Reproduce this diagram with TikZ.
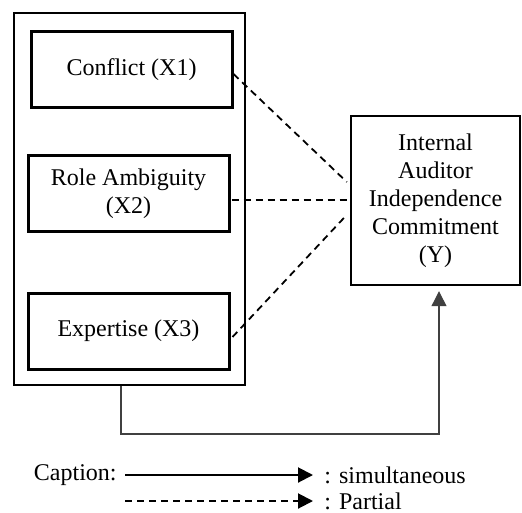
\documentclass[tikz,border=0pt]{standalone}
\usepackage{fontspec}
\setmainfont{Liberation Serif}
\usetikzlibrary{arrows.meta,calc}
\begin{document}
\begin{tikzpicture}[x=0.5pt,y=-0.5pt,
  txt/.style={font=\fontsize{12}{14}\selectfont},
  varbox/.style={txt,draw,line width=1.5pt,minimum width=100.5pt,minimum height=38pt,inner sep=0pt,align=center},
  groupbox/.style={draw,line width=1pt,minimum width=115.5pt,minimum height=186pt,inner sep=0pt},
  ybox/.style={txt,draw,line width=1.2pt,minimum width=84.5pt,minimum height=84.5pt,inner sep=0pt,align=center},
  partial/.style={line width=0.9pt,dash pattern=on 3.5pt off 2.5pt},
  simul/.style={line width=0.6pt,draw=black!75},
  tip/.style={-{Triangle[length=7.5pt,width=7.5pt]}}
]
\useasboundingbox (0,0) rectangle (522,512);
\node[groupbox] (grp) at (129.5,199) {};
\node[varbox] (x1) at (131.5,70) {Conflict (X1)};
\node[varbox] (x2) at (128.5,194) {Role Ambiguity\\(X2)};
\node[varbox] (x3) at (128.5,331) {Expertise (X3)};
\node[ybox] (y) at (435.5,200.5) {Internal\\Auditor\\Independence\\Commitment\\(Y)};
% partial effects
\draw[partial] ($(x1.east)+(0,4)$) -- ($(y.west)+(-3,-18.5)$);
\draw[partial] ($(x2.east)+(1,6)$) -- ($(y.west)+(-1,-0.5)$);
\draw[partial] ($(x3.east)+(2,6)$) -- ($(y.west)+(-5,16.5)$);
% simultaneous effect
\coordinate (c1) at (121,434);
\coordinate (c2) at (439,434);
\draw[simul,tip,shorten >=2.5pt] (grp.south -| c1) -- (c1) -- (c2) -- (c2 |- y.south);
% caption
\node[txt,anchor=east,inner sep=0pt] (cap) at (117,475) {Caption:};
\node[txt,anchor=west,inner sep=0pt] (sim) at (324,475) {: simultaneous};
\node[txt,anchor=west,inner sep=0pt] (par) at (324,501) {: Partial};
\draw[line width=1pt,tip] ($(cap.east)+(8,0)$) -- ($(sim.west)+(-11,0)$);
\coordinate (ps) at (125,501);
\draw[line width=1pt,dash pattern=on 3.5pt off 2.5pt,tip] (ps) -- ($(par.west)+(-11,0)$);
\end{tikzpicture}
\end{document}
